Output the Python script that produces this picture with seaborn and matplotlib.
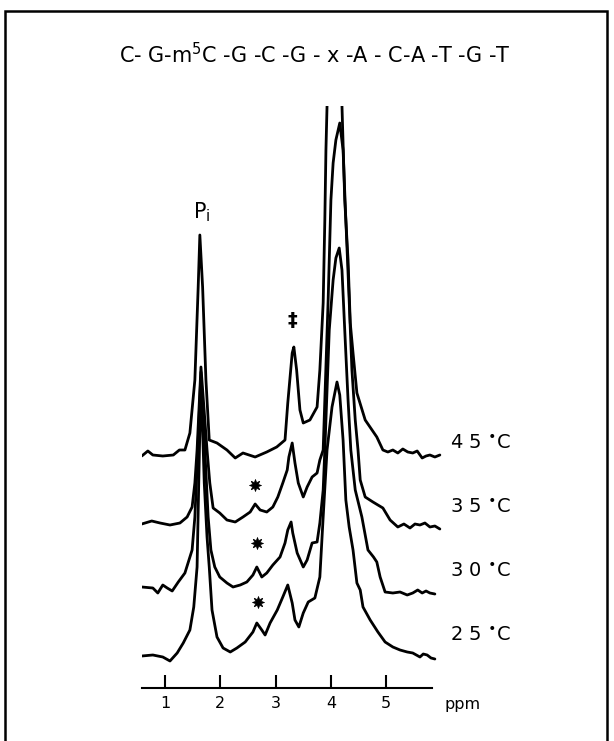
import numpy as np
import pandas as pd
import seaborn as sns
import matplotlib.pyplot as plt
from matplotlib.patches import Rectangle

# ---------------- data ----------------
title_text = "C- G-m$^{5}$C -G -C -G - x -A - C-A -T -G -T"
temps = ["45", "35", "30", "25"]
temp_labels = ["4 5 ${}^{\\bullet}$C", "3 5 ${}^{\\bullet}$C", "3 0 ${}^{\\bullet}$C", "2 5 ${}^{\\bullet}$C"]
trace_offsets = [233, 163, 98, 31]
tick_values = [1, 2, 3, 4, 5]

ppm_45 = [0.58, 0.69, 0.78, 0.96, 1.15, 1.26, 1.36, 1.45, 1.54, 1.60, 1.63, 1.68, 1.74, 1.80,
          1.94, 2.12, 2.27, 2.41, 2.63, 2.84, 3.02, 3.17, 3.22, 3.30, 3.33, 3.38, 3.44, 3.50,
          3.62, 3.75, 3.80, 3.86, 3.89, 3.91, 3.93, 3.96, 4.16, 4.20, 4.25, 4.31, 4.35, 4.40,
          4.47, 4.62, 4.83, 4.94, 5.03, 5.12, 5.21, 5.30, 5.39, 5.48, 5.56, 5.65, 5.72, 5.79,
          5.88, 5.97]
int_45 = [-1, 4, 0, -1, 0, 5, 5, 22, 75, 168, 220, 168, 75, 15,
          12, 5, -3, 2, -2, 3, 8, 15, 52, 102, 108, 85, 45, 32,
          35, 48, 85, 152, 235, 305, 349, 395, 395, 349, 255, 195, 132, 102,
          62, 35, 18, 5, 3, 5, 2, 6, 3, 2, 4, -3, -1, 0,
          -2, 0]

ppm_35 = [0.58, 0.76, 0.91, 1.09, 1.27, 1.40, 1.49, 1.54, 1.58, 1.65, 1.76, 1.81, 1.87, 1.99,
          2.12, 2.27, 2.41, 2.54, 2.63, 2.72, 2.84, 2.95, 3.04, 3.13, 3.21, 3.24, 3.30, 3.35,
          3.41, 3.50, 3.57, 3.66, 3.75, 3.80, 3.86, 3.89, 3.95, 4.00, 4.04, 4.09, 4.16, 4.22,
          4.27, 4.33, 4.38, 4.44, 4.49, 4.53, 4.62, 4.76, 4.94, 5.07, 5.21, 5.32, 5.43, 5.52,
          5.61, 5.70, 5.79, 5.88, 5.97]
int_35 = [1, 4, 2, 0, 2, 8, 18, 42, 75, 158, 75, 42, 17, 12,
          5, 3, 8, 13, 21, 15, 13, 18, 28, 42, 55, 68, 82, 62,
          42, 28, 38, 48, 52, 65, 75, 125, 225, 325, 362, 385, 402, 375,
          305, 225, 155, 105, 75, 45, 28, 23, 17, 5, -2, 1, -3, 1,
          0, 2, -2, -1, -4]

ppm_30 = [0.58, 0.78, 0.87, 0.96, 1.04, 1.13, 1.24, 1.36, 1.49, 1.54, 1.58, 1.65, 1.72, 1.78,
          1.83, 1.90, 1.99, 2.12, 2.23, 2.36, 2.48, 2.59, 2.66, 2.75, 2.84, 2.95, 3.08, 3.17,
          3.22, 3.28, 3.31, 3.39, 3.50, 3.57, 3.66, 3.75, 3.80, 3.86, 3.89, 3.97, 4.04, 4.09,
          4.15, 4.20, 4.25, 4.31, 4.36, 4.44, 4.56, 4.67, 4.77, 4.83, 4.89, 4.98, 5.12, 5.25,
          5.38, 5.48, 5.57, 5.65, 5.72, 5.79, 5.88]
int_30 = [3, 2, -3, 5, 2, -1, 8, 17, 40, 73, 123, 218, 140, 73,
          40, 23, 13, 7, 3, 5, 8, 15, 23, 13, 17, 25, 33, 47,
          60, 68, 57, 37, 23, 30, 47, 48, 67, 100, 140, 260, 310, 332,
          342, 320, 260, 190, 140, 100, 73, 40, 33, 28, 13, -2, -3, -2,
          -5, -3, 0, -3, -1, -3, -4]

ppm_25 = [0.58, 0.78, 0.96, 1.09, 1.22, 1.33, 1.45, 1.52, 1.58, 1.61, 1.65, 1.71, 1.76, 1.80,
          1.85, 1.94, 2.05, 2.18, 2.30, 2.45, 2.59, 2.66, 2.75, 2.81, 2.90, 3.03, 3.13, 3.22,
          3.30, 3.35, 3.42, 3.50, 3.59, 3.71, 3.80, 3.86, 3.93, 4.02, 4.11, 4.16, 4.22, 4.27,
          4.33, 4.40, 4.47, 4.53, 4.58, 4.71, 4.85, 4.98, 5.12, 5.25, 5.38, 5.48, 5.61, 5.67,
          5.74, 5.81, 5.88]
int_25 = [1, 2, 0, -4, 4, 14, 27, 50, 90, 174, 279, 174, 120, 90,
          47, 20, 9, 5, 9, 15, 25, 34, 27, 22, 34, 47, 60, 72,
          54, 37, 30, 44, 55, 59, 80, 140, 207, 250, 275, 262, 217, 157,
          130, 107, 74, 67, 50, 37, 25, 15, 10, 7, 5, 4, 0, 3,
          2, -1, -2]

star_ppm = [2.63, 2.66, 2.68]
star_y = [203, 145, 86]

# ---------------- build table ----------------
series = {"45": (ppm_45, int_45), "35": (ppm_35, int_35),
          "30": (ppm_30, int_30), "25": (ppm_25, int_25)}
rows = []
for t, off in zip(temps, trace_offsets):
    xs, ys = series[t]
    for i, (x, y) in enumerate(zip(xs, ys)):
        rows.append({"temp": t, "order": i, "ppm": x, "y": y + off})
df = pd.DataFrame(rows)

# ---------------- figure ----------------
sns.set_theme(style="white")
plt.rcParams['font.family'] = ['DejaVu Sans']
plt.rcParams['text.color'] = 'black'
plt.rcParams['xtick.color'] = 'black'
plt.rcParams['xtick.labelcolor'] = 'black'

W, H = 614, 741
fig = plt.figure(figsize=(W / 100, H / 100), dpi=100)

def fx(px):
    return px / W

def fy(py):
    return 1 - py / H

ax = fig.add_axes([fx(142), fy(688), fx(445) - fx(142), (688 - 106) / H])
ax.set_xlim(0.584, 6.063)
ax.set_ylim(0, 582)

sns.lineplot(data=df, x="ppm", y="y", units="temp", estimator=None, sort=False,
             color="black", linewidth=2.0, legend=False, ax=ax)

sns.scatterplot(x=star_ppm, y=star_y, marker=(8, 1, 0), s=75, color="black",
                edgecolor="black", linewidth=0.5, ax=ax, clip_on=False)

for s in ["left", "top", "right"]:
    ax.spines[s].set_visible(False)
ax.spines["bottom"].set_bounds(0.584, 5.83)
ax.spines["bottom"].set_linewidth(1.5)
ax.spines["bottom"].set_color("black")
ax.set_xticks(tick_values)
ax.set_xticklabels([str(v) for v in tick_values])
ax.set_yticks([])
ax.tick_params(axis="x", direction="in", length=9.5, width=1.5, color="black",
               labelcolor="black", labelsize=11.5, pad=6, bottom=True)
ax.set_xlabel("")
ax.set_ylabel("")
ax.patch.set_alpha(0)

# annotations
ax.text(1.506, 470, "P$_\\mathrm{i}$", fontsize=15, ha="left", va="baseline", color="black")
ax.text(3.31, 368, "\u2021", fontsize=14, fontweight="bold", ha="center", va="center",
        color="black")

fig.text(fx(445), fy(704), "ppm", fontsize=11.5, ha="left", va="center", color="black")
for lbl, ypx in zip(temp_labels, [443, 507, 571, 635]):
    fig.text(fx(450), fy(ypx), lbl, fontsize=14, ha="left", va="center", color="black")

fig.text(fx(315), fy(55), title_text, fontsize=15, ha="center", va="center", color="black")

fig.add_artist(Rectangle((fx(5), fy(760)), fx(607) - fx(5), (760 - 11) / H,
                         fill=False, lw=1.8, edgecolor="black",
                         transform=fig.transFigure, clip_on=False))

fig.savefig("out.png", dpi=100)
